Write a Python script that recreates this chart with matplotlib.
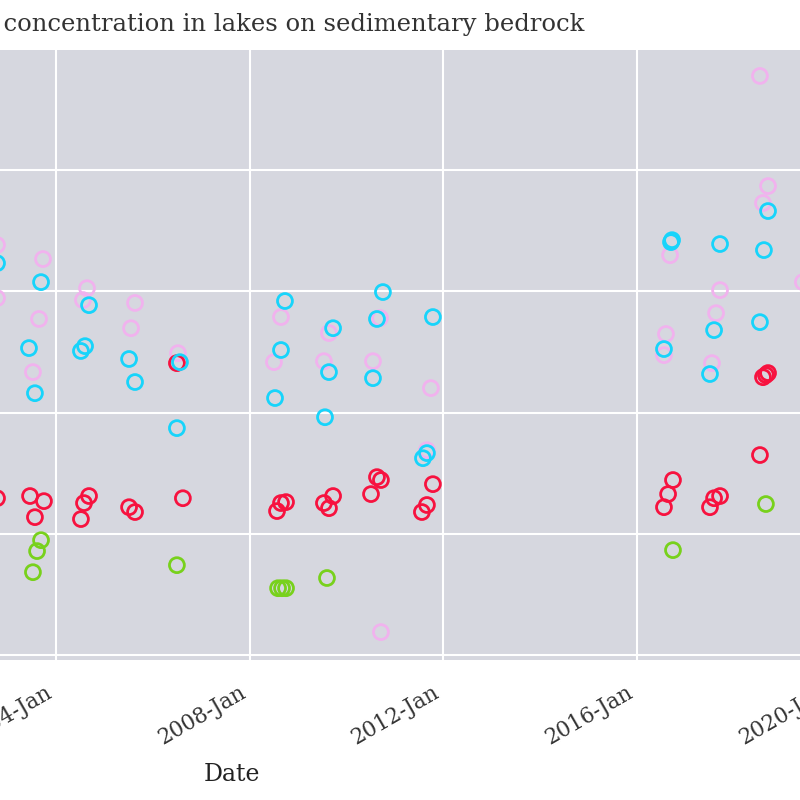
import pandas as pd
import matplotlib
matplotlib.use("Agg")
import matplotlib.pyplot as plt
import matplotlib.dates as mdates

plt.rcParams["font.family"] = ["DejaVu Serif"]

# sampling dates and concentrations per series
red_dates = ["2002-10-13", "2003-06-19", "2003-10-02", "2003-07-26", "2004-09-06", "2004-07-30",
             "2004-07-07", "2005-07-05", "2005-08-19", "2006-07-01", "2006-08-15", "2008-07-25",
             "2008-08-24", "2008-10-01", "2009-09-21", "2009-07-14", "2009-08-21", "2010-08-18",
             "2010-09-17", "2010-07-04", "2011-10-14", "2011-08-30", "2011-07-23", "2016-09-28",
             "2016-08-22", "2016-07-22", "2017-09-18", "2017-08-04", "2017-07-04", "2018-09-15",
             "2018-08-30", "2018-08-08", "2018-07-16"]
red_values = [6.47, 6.56, 6.35, 5.69, 6.56, 6.27,
              5.61, 6.10, 5.90, 12.04, 6.47, 5.94,
              6.27, 6.31, 6.56, 6.27, 6.06, 7.34,
              7.22, 6.64, 7.05, 6.19, 5.90, 7.22,
              6.64, 6.10, 6.56, 6.47, 6.10, 11.63,
              11.55, 11.46, 8.25]

cyan_dates = ["2002-10-13", "2003-09-10", "2003-06-11", "2003-07-26", "2004-09-06", "2004-08-07",
              "2004-07-07", "2005-07-05", "2005-08-19", "2006-07-24", "2006-07-01", "2008-09-23",
              "2008-08-24", "2008-07-10", "2009-09-21", "2009-08-21", "2009-07-22", "2010-10-02",
              "2010-08-18", "2010-07-19", "2011-10-14", "2011-08-30", "2011-07-31", "2016-09-13",
              "2016-09-21", "2016-07-22", "2017-09-18", "2017-08-04", "2017-07-04", "2018-09-15",
              "2018-08-15", "2018-07-16"]
cyan_values = [16.16, 15.38, 12.66, 10.80, 14.43, 12.74,
               12.54, 12.21, 11.26, 12.08, 9.36, 14.60,
               12.58, 10.60, 13.48, 11.67, 9.81, 14.97,
               13.86, 11.42, 13.94, 8.33, 8.12, 17.03,
               17.11, 12.62, 16.95, 13.40, 11.59, 18.31,
               16.70, 13.73]

pink_dates = ["2002-10-13", "2002-10-13", "2003-09-25", "2003-08-26", "2003-07-11", "2004-08-22",
              "2004-07-22", "2005-08-19", "2005-07-20", "2006-07-09", "2008-08-24", "2008-07-02",
              "2009-08-21", "2009-07-14", "2010-09-10", "2010-07-19", "2010-09-17", "2011-09-29",
              "2011-08-30", "2016-09-06", "2016-08-06", "2016-07-22", "2017-09-18", "2017-08-19",
              "2017-07-19", "2018-07-16", "2018-09-15", "2018-08-08", "2019-06-05"]
pink_values = [16.91, 14.72, 16.33, 13.86, 11.67, 15.13,
               14.64, 14.52, 13.48, 12.45, 13.94, 12.08,
               13.28, 12.12, 13.90, 12.12, 0.95, 11.01,
               8.45, 16.49, 13.24, 12.37, 15.05, 14.10,
               12.04, 23.88, 19.34, 18.64, 15.38]

green_dates = ["2003-09-10", "2003-08-11", "2003-07-11", "2006-07-01", "2008-08-02", "2008-09-01",
               "2008-10-01", "2009-08-06", "2016-09-28", "2018-08-30"]
green_values = [4.74, 4.29, 3.42, 3.71, 2.76, 2.76,
                2.76, 3.18, 4.33, 6.23]

series = [
    ("pink", pink_dates, pink_values, "#f1b2ee"),
    ("green", green_dates, green_values, "#78d11c"),
    ("red", red_dates, red_values, "#f7123f"),
    ("cyan", cyan_dates, cyan_values, "#17d4fb"),
]

title = "Major ion concentration in lakes on sedimentary bedrock"

fig = plt.figure(figsize=(8, 8), dpi=100)
# the axes is wider than the figure: the reference is a crop of a larger chart
ax = fig.add_axes([-0.475, 0.175, 1.53, 0.7625])
ax.set_facecolor("#d6d7df")
for side in ax.spines.values():
    side.set_visible(False)

for name, dates, values, color in series:
    ax.scatter(pd.to_datetime(dates), values, s=115, facecolors="none",
               edgecolors=color, linewidths=2, label=name, zorder=3)

ax.set_xlim(pd.Timestamp("1994-12-30"), pd.Timestamp("2020-04-10"))
ax.set_ylim(-0.2, 24.95)
ax.set_yticks([0, 5, 10, 15, 20])
ax.xaxis.set_major_locator(mdates.YearLocator(4, month=1, day=1))
ax.xaxis.set_major_formatter(mdates.DateFormatter("%Y-%b"))
ax.grid(True, color="white", linewidth=1.5)
ax.set_axisbelow(True)
ax.tick_params(length=0, labelsize=15.5, colors="#333333")
ax.tick_params(axis="x", pad=15)
for lbl in ax.get_xticklabels():
    lbl.set_rotation(30)
    lbl.set_ha("right")

ax.set_xlabel("Date", fontsize=17, labelpad=10, color="#222222")
# title is centred on the (wider) original axes; only its right part shows
fig.text(0.731, 0.969, title, ha="right", va="center", fontsize=17.5, color="#333333")

fig.savefig("out.png", dpi=100)
